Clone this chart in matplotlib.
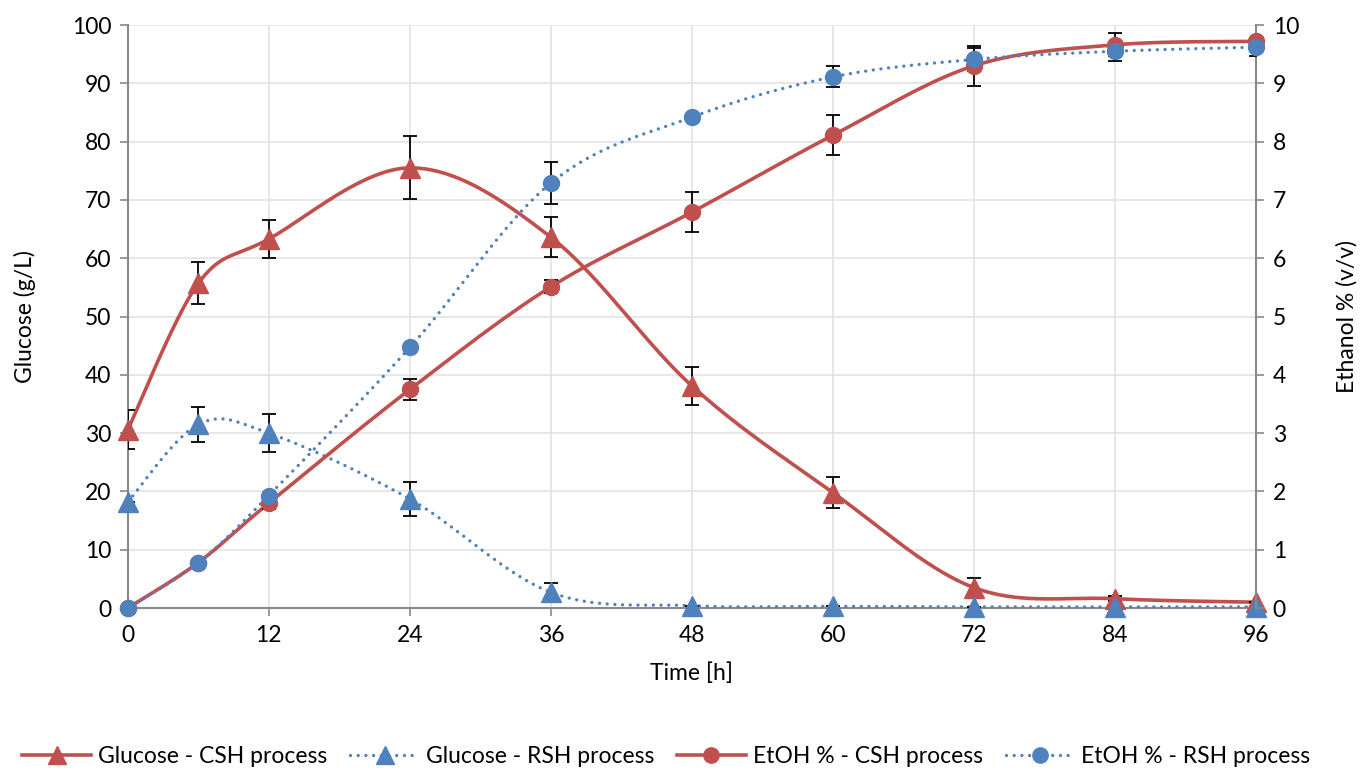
import matplotlib
matplotlib.use("Agg")
import matplotlib.pyplot as plt
import numpy as np
from matplotlib.lines import Line2D

plt.rcParams["font.family"] = ["Lato", "DejaVu Sans"]
plt.rcParams["font.size"] = 16.5

time_h = [0, 6, 12, 24, 36, 48, 60, 72, 84, 96]

glucose_csh = [30.6, 55.7, 63.3, 75.5, 63.6, 38.1, 19.8, 3.5, 1.6, 1.0]
glucose_csh_err = [3.4, 3.6, 3.2, 5.4, 3.4, 3.3, 2.7, 1.7, 0.4, 0.0]
glucose_rsh = [18.2, 31.5, 30.0, 18.7, 2.7, 0.4, 0.3, 0.2, 0.2, 0.2]
glucose_rsh_err = [0.0, 3.0, 3.2, 2.85, 1.6, 0.0, 0.0, 0.0, 0.0, 0.0]

etoh_csh = [0.0, 0.78, 1.8, 3.75, 5.51, 6.79, 8.11, 9.3, 9.66, 9.72]
etoh_csh_err = [0.0, 0.0, 0.1, 0.18, 0.11, 0.34, 0.34, 0.34, 0.2, 0.05]
etoh_rsh = [0.0, 0.78, 1.93, 4.47, 7.29, 8.42, 9.11, 9.41, 9.55, 9.62]
etoh_rsh_err = [0.0, 0.0, 0.0, 0.05, 0.36, 0.05, 0.18, 0.2, 0.16, 0.16]

labels = ["Glucose - CSH process", "Glucose - RSH process",
          "EtOH % - CSH process", "EtOH % - RSH process"]

RED = "#c0504d"
BLUE = "#4f81bd"
GRID = "#e3e3e3"
AXIS = "#898989"


def smooth(x, y, n=40):
    # bezier smoothing like the office chart "smoothed line"
    x = np.asarray(x, float)
    y = np.asarray(y, float)
    px = np.concatenate([[x[0]], x, [x[-1]]])
    py = np.concatenate([[y[0]], y, [y[-1]]])
    xs, ys = [], []
    t = np.linspace(0, 1, n)
    for i in range(1, len(px) - 2):
        p0 = np.array([px[i], py[i]])
        p3 = np.array([px[i + 1], py[i + 1]])
        c1 = p0 + (np.array([px[i + 1], py[i + 1]]) - np.array([px[i - 1], py[i - 1]])) / 6
        c2 = p3 - (np.array([px[i + 2], py[i + 2]]) - np.array([px[i], py[i]])) / 6
        b = ((1 - t) ** 3)[:, None] * p0 + (3 * (1 - t) ** 2 * t)[:, None] * c1 \
            + (3 * (1 - t) * t ** 2)[:, None] * c2 + (t ** 3)[:, None] * p3
        xs.extend(b[:, 0])
        ys.extend(b[:, 1])
    return np.array(xs), np.array(ys)


fig = plt.figure(figsize=(13.6, 7.72), dpi=100)
ax = fig.add_axes([0.094, 0.2124, 0.8295, 0.7552])
ax2 = ax.twinx()

ax.set_xlim(0, 96)
ax.set_ylim(0, 100)
ax2.set_ylim(0, 10)
ax.set_xticks(range(0, 97, 12))
ax.set_yticks(range(0, 101, 10))
ax2.set_yticks(range(0, 11, 1))

ax.grid(True, color=GRID, lw=1.2)
ax.set_axisbelow(True)
for a in (ax, ax2):
    for s in a.spines.values():
        s.set_visible(False)
    a.tick_params(colors="black", length=6, width=1.2, labelsize=16.5)
    a.tick_params(axis="both", color=AXIS)
ax.spines["left"].set_visible(True)
ax.spines["bottom"].set_visible(True)
ax2.spines["right"].set_visible(True)
for s in (ax.spines["left"], ax.spines["bottom"], ax2.spines["right"]):
    s.set_color(AXIS)
    s.set_linewidth(1.5)
ax.tick_params(axis="x", pad=6)
ax.tick_params(axis="y", pad=6)
ax2.tick_params(axis="y", pad=6)

red_line = dict(color=RED, lw=2.6, ls="-")
blue_line = dict(color=BLUE, lw=2.4, ls=(0, (0.01, 2.3)), dash_capstyle="round")
err_kw = dict(fmt="none", ecolor="black", elinewidth=1.3, capsize=5, capthick=1.3)

# glucose on left axis
sx, sy = smooth(time_h, glucose_csh)
ax.plot(sx, sy, **red_line, zorder=3)
sx, sy = smooth(time_h, glucose_rsh)
ax.plot(sx, sy, **blue_line, zorder=3)
ax.errorbar(time_h, glucose_csh, yerr=glucose_csh_err, **err_kw, zorder=4)
ax.errorbar(time_h, glucose_rsh, yerr=glucose_rsh_err, **err_kw, zorder=4)
ax.plot(time_h, glucose_csh, ls="none", marker="^", ms=15, color=RED, clip_on=False, zorder=5)
ax.plot(time_h, glucose_rsh, ls="none", marker="^", ms=15, color=BLUE, clip_on=False, zorder=5)

# ethanol on right axis
sx, sy = smooth(time_h, etoh_csh)
ax2.plot(sx, sy, **red_line, zorder=3)
sx, sy = smooth(time_h, etoh_rsh)
ax2.plot(sx, sy, **blue_line, zorder=3)
ax2.errorbar(time_h, etoh_csh, yerr=etoh_csh_err, **err_kw, zorder=4)
ax2.errorbar(time_h, etoh_rsh, yerr=etoh_rsh_err, **err_kw, zorder=4)
ax2.plot(time_h, etoh_csh, ls="none", marker="o", ms=11.5, color=RED, clip_on=False, zorder=5)
ax2.plot(time_h, etoh_rsh, ls="none", marker="o", ms=11.5, color=BLUE, clip_on=False, zorder=5)

ax.set_xlabel("Time [h]", fontsize=16.5, labelpad=12)
ax.set_ylabel("Glucose (g/L)", fontsize=16.5, labelpad=26)
ax2.set_ylabel("Ethanol % (v/v)", fontsize=16.5, labelpad=27)

handles = [
    Line2D([], [], **red_line, marker="^", ms=13),
    Line2D([], [], **blue_line, marker="^", ms=13),
    Line2D([], [], **red_line, marker="o", ms=11),
    Line2D([], [], **blue_line, marker="o", ms=11),
]
fig.legend(handles, labels, loc="center", bbox_to_anchor=(0.49, 0.02), ncol=4,
           frameon=False, fontsize=16.5, handlelength=3.0, columnspacing=1.0,
           handletextpad=0.3)

fig.savefig("out.png", dpi=100)
